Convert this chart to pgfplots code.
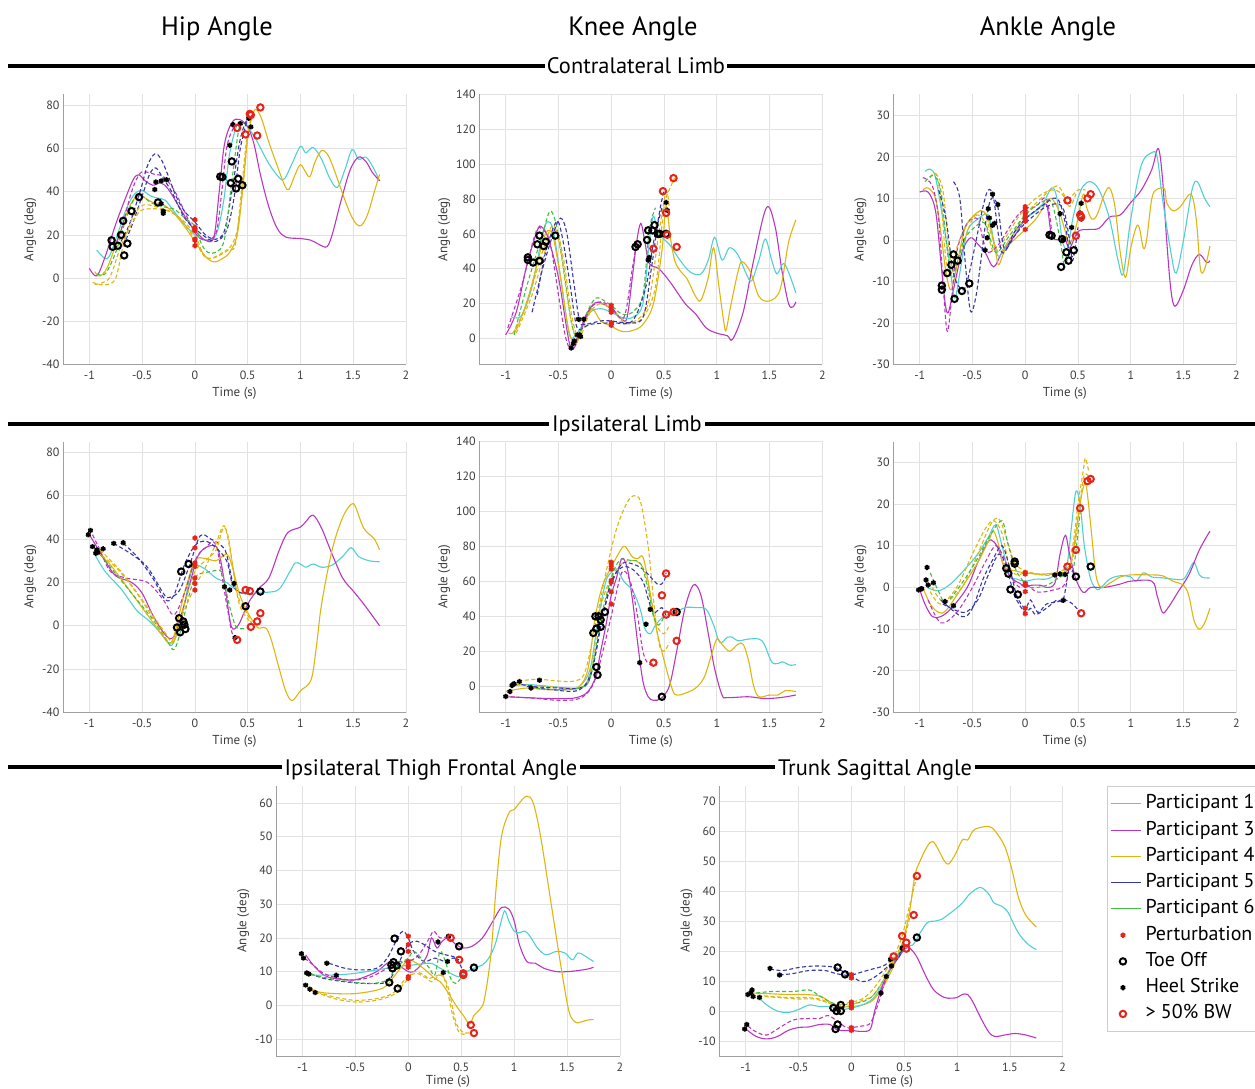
\documentclass[border=0pt]{standalone}
\usepackage{pgfplots}
\pgfplotsset{compat=1.18}
\usepackage{fontspec}
\setmainfont{PT Sans}
\definecolor{c1}{RGB}{80,208,210}
\definecolor{c3}{RGB}{185,55,190}
\definecolor{c4}{RGB}{222,182,15}
\definecolor{c5}{RGB}{55,55,168}
\definecolor{c6}{RGB}{65,190,65}
\definecolor{rd}{RGB}{232,35,25}
\definecolor{gridc}{RGB}{226,226,226}
\definecolor{axc}{RGB}{160,160,160}
\definecolor{labc}{RGB}{60,60,60}
\pgfplotsset{
  base/.style={scale only axis, width=343pt, height=270pt,
    xmin=-1.25, xmax=2, xtick={-1,-0.5,0,0.5,1,1.5,2},
    grid=major, grid style={line width=0.7pt, draw=gridc},
    axis x line*=bottom, axis y line*=left,
    axis line style={draw=axc, line width=0.7pt, -},
    tick style={draw=none},
    ticklabel style={font=\fontsize{12}{14}\selectfont, text=labc},
    xticklabel style={yshift=-3pt},
    label style={font=\fontsize{13}{15}\selectfont, text=labc},
    xlabel={Time (s)}, ylabel={Angle (deg)},
    xlabel style={yshift=-1pt},
    ylabel style={yshift=-1pt},
    /pgf/number format/assume math mode=true,
    every axis plot/.append style={line width=1.1pt, smooth, tension=0.55}},
  s1/.style={c1, solid}, s3/.style={c3, solid}, s4/.style={c4, solid},
  d3/.style={c3, dash pattern=on 4pt off 2.5pt},
  d4/.style={c4, dash pattern=on 4pt off 2.5pt},
  d5/.style={c5, dash pattern=on 4pt off 2.5pt},
  d6/.style={c6, dash pattern=on 4pt off 2.5pt},
  HS/.style={only marks, mark=asterisk, mark size=2.6pt, black, line width=1.7pt},
  TO/.style={only marks, mark=o, mark size=3.2pt, black, line width=2pt},
  PT/.style={only marks, mark=asterisk, mark size=2.6pt, rd, line width=1.7pt},
  BW/.style={only marks, mark=o, mark size=3.2pt, rd, line width=2pt},
  lineleg/.style={legend image code/.code={\draw[##1] (0pt,0pt) -- (30pt,0pt);}},
  markleg/.style={legend image code/.code={\draw[##1] plot coordinates {(12pt,0pt)};}},
}
\begin{document}
\begin{tikzpicture}
\path[use as bounding box] (0pt,0pt) rectangle (1255pt,1088pt);
\node[anchor=base, font=\fontsize{26.5}{30}\selectfont] at (217pt,1052pt) {Hip Angle};
\node[anchor=base, font=\fontsize{26.5}{30}\selectfont] at (633pt,1052pt) {Knee Angle};
\node[anchor=base, font=\fontsize{26.5}{30}\selectfont] at (1048pt,1052pt) {Ankle Angle};
\draw[line width=3.5pt] (8pt,1022pt) -- (1262pt,1022pt);
\node[anchor=base, fill=white, inner xsep=2pt, inner ysep=1pt, font=\fontsize{22.4}{25}\selectfont] at (636pt,1014pt) {Contralateral Limb};
\draw[line width=3.5pt] (8pt,664pt) -- (1262pt,664pt);
\node[anchor=base, fill=white, inner xsep=3pt, inner ysep=1pt, font=\fontsize{22.4}{25}\selectfont] at (627pt,656pt) {Ipsilateral Limb};
\draw[line width=3.5pt] (8pt,321pt) -- (1262pt,321pt);
\node[anchor=base, fill=white, inner xsep=3pt, inner ysep=1pt, font=\fontsize{22.4}{25}\selectfont] at (431pt,313pt) {Ipsilateral Thigh Frontal Angle};
\node[anchor=base, fill=white, inner xsep=3pt, inner ysep=1pt, font=\fontsize{22.4}{25}\selectfont] at (875pt,313pt) {Trunk Sagittal Angle};

%================ HIP CONTRA
\begin{axis}[base, at={(63pt,723.5pt)}, anchor=south west, ymin=-40, ymax=85, ytick={-40,-20,0,20,40,60,80}]
\addplot[s1] coordinates {(-0.93,13) (-0.83,9) (-0.75,18) (-0.65,32) (-0.57,39) (-0.5,40.5) (-0.42,38) (-0.35,37) (-0.28,36) (-0.2,31) (-0.1,25) (0,20) (0.1,17.5) (0.2,20) (0.27,35) (0.33,58) (0.4,71) (0.45,72) (0.5,70) (0.58,64) (0.7,53) (0.8,46.5) (0.85,46) (0.92,53) (1.0,61) (1.05,58) (1.12,60.5) (1.2,55) (1.28,46) (1.35,42) (1.42,50) (1.49,59.5) (1.55,55) (1.62,56) (1.68,52) (1.75,45)};
\addplot[s3] coordinates {(-1,4.5) (-0.93,1) (-0.85,10) (-0.75,25) (-0.65,38) (-0.58,46) (-0.53,47.8) (-0.47,45) (-0.4,43) (-0.32,44) (-0.25,41) (-0.15,33) (-0.05,25) (0,22) (0.1,17.5) (0.18,19) (0.23,40) (0.28,62) (0.35,72) (0.42,73.5) (0.5,70) (0.56,62) (0.62,48) (0.7,33) (0.78,23) (0.86,19) (1.0,18.3) (1.1,17.5) (1.18,15.5) (1.25,14.5) (1.3,20) (1.38,35) (1.47,50) (1.55,56) (1.62,54) (1.68,49) (1.75,45)};
\addplot[s4] coordinates {(-0.95,3) (-0.9,1) (-0.83,5) (-0.73,18) (-0.63,32) (-0.55,38) (-0.47,37) (-0.4,35) (-0.3,34) (-0.2,30) (-0.1,24) (0,17) (0.1,10) (0.18,7.5) (0.26,9) (0.33,12) (0.4,20) (0.45,40) (0.5,65) (0.55,76) (0.58,78) (0.63,74) (0.7,63) (0.78,52) (0.85,43) (0.89,41) (0.95,48) (1.0,52.5) (1.05,49) (1.09,47) (1.14,54) (1.2,59) (1.26,57) (1.32,50) (1.4,39) (1.47,30) (1.53,25) (1.58,24.5) (1.64,30) (1.7,40) (1.75,48)};
\addplot[d3] coordinates {(-0.77,14) (-0.7,22) (-0.6,40) (-0.52,48.5) (-0.45,49) (-0.38,48) (-0.3,47) (-0.2,41) (-0.1,31) (0,21) (0.1,17.5) (0.2,21) (0.25,38) (0.3,60) (0.36,69) (0.42,71)};
\addplot[d5] coordinates {(-0.7,17) (-0.62,25) (-0.52,40) (-0.45,52) (-0.38,57.5) (-0.32,55) (-0.25,47) (-0.18,38) (-0.1,31) (0,26) (0.1,20) (0.2,18) (0.28,22) (0.35,40) (0.42,62) (0.47,71) (0.52,75)};
\addplot[d5] coordinates {(-0.68,15) (-0.6,24) (-0.5,38) (-0.43,48) (-0.37,51) (-0.3,46) (-0.22,40) (-0.1,28) (0,23) (0.1,19) (0.2,17) (0.3,22) (0.37,37) (0.43,60) (0.5,74)};
\addplot[d6] coordinates {(-0.93,2) (-0.85,2) (-0.75,12) (-0.65,28) (-0.57,37) (-0.5,38) (-0.42,35) (-0.3,33) (-0.2,32) (-0.1,28) (0,24) (0.06,16) (0.12,12) (0.2,12) (0.28,18) (0.35,45) (0.42,70) (0.47,72)};
\addplot[d4] coordinates {(-0.97,-2) (-0.9,-3) (-0.83,-3) (-0.75,0) (-0.68,15) (-0.6,27) (-0.52,33) (-0.45,34) (-0.37,33) (-0.3,32) (-0.2,30) (-0.1,25) (0,18) (0.06,12) (0.12,9) (0.2,10) (0.3,13) (0.38,15) (0.43,35) (0.48,60) (0.52,72) (0.55,75)};
\addplot[d4] coordinates {(-0.95,-3) (-0.87,-2) (-0.8,1) (-0.7,15) (-0.6,25) (-0.52,31) (-0.45,32) (-0.35,32) (-0.25,31) (-0.12,27) (0,20) (0.08,11) (0.15,9) (0.25,11) (0.33,14) (0.4,22) (0.45,40) (0.5,66)};
\addplot[TO] coordinates {(-0.79,17.5) (-0.78,14.5) (-0.73,15) (-0.7,20) (-0.68,26.5) (-0.67,10.5) (-0.64,16) (-0.6,31) (-0.53,37.5) (-0.35,35) (0.24,47) (0.26,46.8) (0.34,44) (0.35,54) (0.39,41.5) (0.41,46) (0.45,43)};
\addplot[HS] coordinates {(-0.38,41) (-0.37,44.5) (-0.32,45) (-0.27,45.5) (-0.32,34.5) (-0.3,31) (-0.3,30) (0.33,61.5) (0.36,71) (0.43,71.5) (0.51,74) (0.53,70)};
\addplot[PT] coordinates {(0,27) (0,23.5) (0,22.5) (0,22) (0,18) (0,17.5) (0,15)};
\addplot[BW] coordinates {(0.4,69.5) (0.48,66.5) (0.52,76) (0.53,75.5) (0.59,66) (0.62,79)};
\end{axis}

%================ KNEE CONTRA
\begin{axis}[base, at={(479.3pt,723.5pt)}, anchor=south west, ymin=-15, ymax=140, ytick={0,20,40,60,80,100,120,140}]
\addplot[s3] coordinates {(-1,2) (-0.9,15) (-0.8,42) (-0.7,62) (-0.66,64) (-0.6,58) (-0.5,35) (-0.42,5) (-0.38,-6) (-0.33,-3) (-0.25,12) (-0.15,20.5) (-0.05,19) (0,17) (0.1,11) (0.15,12) (0.2,35) (0.24,55) (0.28,66) (0.32,55) (0.36,43) (0.45,40) (0.55,33) (0.7,20) (0.8,14) (0.9,6) (1.0,3) (1.1,1.5) (1.15,-0.5) (1.25,15) (1.35,45) (1.47,75) (1.55,65) (1.62,38) (1.68,20) (1.72,18) (1.75,21)};
\addplot[s1] coordinates {(-0.95,12.5) (-0.85,13) (-0.75,30) (-0.65,60) (-0.6,67) (-0.55,62) (-0.48,35) (-0.42,10) (-0.38,0) (-0.3,5) (-0.2,15) (-0.1,17) (0,15) (0.1,12) (0.2,12) (0.3,20) (0.36,55) (0.4,70) (0.45,60) (0.55,54) (0.65,45) (0.75,38) (0.85,37) (0.92,45) (0.98,58) (1.05,45) (1.12,52) (1.2,48) (1.28,37) (1.33,33) (1.4,45) (1.46,57) (1.52,45) (1.57,37) (1.63,43) (1.68,38) (1.75,26)};
\addplot[s4] coordinates {(-0.97,3) (-0.9,5) (-0.78,25) (-0.65,55) (-0.6,62) (-0.55,58) (-0.48,35) (-0.42,10) (-0.38,0) (-0.33,-3) (-0.25,10) (-0.18,17) (-0.1,10) (0,7) (0.1,4) (0.2,4.5) (0.3,8) (0.4,20) (0.48,50) (0.52,76) (0.56,58) (0.6,45) (0.65,39) (0.72,34) (0.8,24) (0.85,22) (0.92,35) (0.97,52) (1.02,30) (1.07,8) (1.09,5) (1.13,18) (1.2,38) (1.24,44) (1.32,38) (1.4,24) (1.5,21.5) (1.6,28) (1.68,55) (1.75,68)};
\addplot[d6] coordinates {(-0.92,2) (-0.8,30) (-0.65,60) (-0.58,73) (-0.52,65) (-0.45,40) (-0.38,10) (-0.32,0) (-0.25,12) (-0.15,23) (-0.05,21) (0,19) (0.1,14) (0.2,15) (0.3,25) (0.36,62) (0.42,75)};
\addplot[d4] coordinates {(-0.93,3) (-0.8,20) (-0.65,50) (-0.55,65) (-0.48,50) (-0.42,25) (-0.36,5) (-0.3,0) (-0.2,15) (-0.1,20) (0,18) (0.1,10) (0.2,9) (0.35,20) (0.45,60) (0.52,84) (0.55,75)};
\addplot[d4] coordinates {(-0.9,3) (-0.75,25) (-0.6,55) (-0.52,62) (-0.45,45) (-0.38,15) (-0.32,2) (-0.25,10) (-0.15,20) (0,17) (0.15,9) (0.3,12) (0.42,30) (0.5,75) (0.57,88) (0.6,92)};
\addplot[d5] coordinates {(-0.75,15) (-0.65,40) (-0.55,60) (-0.48,69) (-0.42,60) (-0.35,30) (-0.3,10) (-0.25,8) (-0.1,10) (0,10) (0.15,9) (0.3,12) (0.38,40) (0.45,70) (0.5,85)};
\addplot[d5] coordinates {(-0.7,25) (-0.62,50) (-0.52,67) (-0.47,60) (-0.4,35) (-0.34,10) (-0.3,5) (-0.2,8) (0,9) (0.2,10) (0.33,30) (0.4,55) (0.48,75)};
\addplot[d3] coordinates {(-0.98,6) (-0.85,30) (-0.72,60) (-0.66,63) (-0.58,55) (-0.5,25) (-0.43,0) (-0.38,-5) (-0.3,3) (-0.2,17) (-0.1,21) (0,18) (0.12,12) (0.2,40) (0.24,55)};
\addplot[TO] coordinates {(-0.79,46.5) (-0.79,45) (-0.74,43.5) (-0.7,54) (-0.68,59) (-0.68,44.5) (-0.64,53) (-0.62,55.5) (-0.53,59) (0.23,52.5) (0.25,54) (0.34,56.5) (0.35,62) (0.39,62) (0.41,65) (0.44,60) (0.46,60) (0.52,60)};
\addplot[HS] coordinates {(-0.38,-5.5) (-0.36,-3) (-0.35,-1.5) (-0.32,2) (-0.31,11) (-0.3,2) (-0.29,1) (-0.26,11) (0.35,45) (0.36,46.5) (0.52,78) (0.53,73.5)};
\addplot[PT] coordinates {(0,19) (0,17) (0,16) (0,15) (0,9) (0,7.5)};
\addplot[BW] coordinates {(0.4,51.5) (0.49,84.5) (0.52,72) (0.53,59.5) (0.59,92) (0.62,52.5)};
\end{axis}

%================ ANKLE CONTRA
\begin{axis}[base, at={(893.3pt,723.5pt)}, anchor=south west, ymin=-30, ymax=35, ytick={-30,-20,-10,0,10,20,30}]
\addplot[s3] coordinates {(-1,11.5) (-0.92,11.5) (-0.85,7) (-0.8,-5) (-0.76,-15) (-0.73,-17.5) (-0.68,-12) (-0.6,-3) (-0.52,0.5) (-0.45,-1) (-0.38,-3) (-0.3,-6.5) (-0.22,-3) (-0.1,1) (0,5) (0.1,7) (0.2,8.5) (0.25,1) (0.32,0) (0.38,0) (0.42,-2) (0.5,2) (0.6,2.5) (0.7,2.8) (0.8,5.5) (0.9,6) (1.0,9) (1.1,12) (1.2,17) (1.26,22) (1.3,15) (1.34,0) (1.38,-12) (1.42,-16) (1.5,-12) (1.58,-6) (1.65,-3.5) (1.72,-5.5) (1.75,-5)};
\addplot[s1] coordinates {(-0.95,16.5) (-0.9,17) (-0.85,15) (-0.78,5) (-0.72,-5) (-0.67,-14) (-0.62,-8) (-0.55,2) (-0.45,5) (-0.35,6) (-0.3,0) (-0.25,-4) (-0.15,0) (0,5) (0.15,8) (0.25,12.5) (0.3,10) (0.35,0) (0.4,-2) (0.45,5) (0.5,10) (0.55,13) (0.62,14) (0.7,12) (0.8,5) (0.88,-5) (0.93,-8) (1.0,5) (1.1,18) (1.2,21) (1.25,20) (1.3,10) (1.38,-3) (1.43,-8) (1.5,0) (1.58,12) (1.63,14) (1.7,10) (1.75,8)};
\addplot[s4] coordinates {(-0.97,12) (-0.92,12.5) (-0.85,10) (-0.8,2) (-0.75,-8) (-0.7,-12) (-0.64,-5) (-0.58,2) (-0.52,5) (-0.42,7) (-0.35,5) (-0.28,-3) (-0.25,-6) (-0.18,-2) (0,2.5) (0.1,5) (0.2,9) (0.25,10) (0.32,7) (0.38,2) (0.42,-1) (0.48,3) (0.55,11) (0.58,8) (0.63,5) (0.68,6) (0.75,11) (0.8,12.5) (0.85,8) (0.9,-3) (0.95,-9) (1.0,-2) (1.05,3) (1.08,3) (1.12,-2) (1.15,0) (1.2,10) (1.25,12.2) (1.32,12.3) (1.34,9) (1.4,7) (1.47,8) (1.57,11) (1.62,5) (1.66,-7) (1.7,-7) (1.75,-1.5)};
\addplot[d3] coordinates {(-0.97,15) (-0.88,13) (-0.82,5) (-0.78,-10) (-0.74,-22) (-0.7,-15) (-0.65,-3) (-0.55,4) (-0.45,5) (-0.4,0) (-0.35,-3) (-0.25,-1) (-0.1,5) (0,7.5) (0.1,8) (0.2,10) (0.25,2)};
\addplot[d4] coordinates {(-0.9,15) (-0.85,16) (-0.8,10) (-0.75,-5) (-0.7,-8) (-0.65,-2) (-0.55,4) (-0.45,6) (-0.38,4) (-0.3,-3) (-0.2,0) (-0.05,6) (0.1,10) (0.25,12) (0.35,11) (0.42,8) (0.48,11)};
\addplot[d4] coordinates {(-0.85,16) (-0.78,12) (-0.72,-3) (-0.67,-8) (-0.6,-2) (-0.5,5) (-0.4,7) (-0.33,2) (-0.25,-3) (-0.15,0) (0,6) (0.15,10) (0.3,13) (0.4,10) (0.5,12) (0.57,12)};
\addplot[d6] coordinates {(-0.95,14) (-0.87,15.5) (-0.8,12) (-0.75,0) (-0.7,-9) (-0.65,-6) (-0.58,0) (-0.48,3) (-0.38,4) (-0.28,-3) (-0.15,1) (0,6) (0.15,9) (0.25,9) (0.33,0) (0.37,-6) (0.42,-3)};
\addplot[d5] coordinates {(-0.82,12) (-0.75,5) (-0.68,-8) (-0.6,-12) (-0.55,-10) (-0.48,-2) (-0.4,8) (-0.35,12) (-0.3,10) (-0.22,-3) (-0.1,2) (0,5) (0.15,8) (0.3,10) (0.38,4) (0.42,-4) (0.47,-3)};
\addplot[d5] coordinates {(-0.68,14) (-0.62,10) (-0.57,-5) (-0.52,-17) (-0.47,-14) (-0.42,-5) (-0.37,5) (-0.32,10) (-0.26,8) (-0.2,-2) (-0.1,1) (0,4) (0.2,8) (0.35,8) (0.42,0) (0.45,-5) (0.5,3)};
\addplot[TO] coordinates {(-0.79,-11) (-0.79,-12) (-0.74,-8) (-0.7,-6) (-0.68,-3.5) (-0.67,-14.2) (-0.64,-5) (-0.6,-12.3) (-0.53,-10.5) (0.23,1.2) (0.25,1) (0.34,-6.5) (0.35,0.2) (0.39,-3) (0.41,-5) (0.46,-2.5)};
\addplot[HS] coordinates {(-0.38,-2.5) (-0.36,0.5) (-0.35,7.5) (-0.34,5.3) (-0.31,11) (-0.31,3.5) (-0.29,4) (-0.26,8.5) (0.33,6.3) (0.36,0.1) (0.44,3) (0.52,6.5) (0.53,5) (0.53,8.8)};
\addplot[PT] coordinates {(0,8) (0,7.3) (0,6.5) (0,5.8) (0,5) (0,4.5) (0,2.5)};
\addplot[BW] coordinates {(0.4,9.5) (0.48,1) (0.52,6) (0.53,5.5) (0.59,10) (0.62,11)};
\end{axis}

%================ HIP IPSI
\begin{axis}[base, height=271pt, at={(63pt,375.5pt)}, anchor=south west, ymin=-40, ymax=85, ytick={-40,-20,0,20,40,60,80}]
\addplot[s1] coordinates {(-0.95,33) (-0.85,25) (-0.7,17) (-0.55,7) (-0.45,3) (-0.35,-2) (-0.25,-8) (-0.22,-9) (-0.18,-5) (-0.1,10) (-0.05,22) (0,28) (0.1,26) (0.2,22) (0.3,20) (0.35,18) (0.45,15) (0.55,14.5) (0.6,15.5) (0.7,15.5) (0.8,17) (0.9,25) (0.95,29) (1.0,28.5) (1.05,27) (1.12,28.5) (1.2,27) (1.3,28) (1.4,32) (1.48,36) (1.55,32) (1.65,30) (1.75,29.5)};
\addplot[s3] coordinates {(-1,42) (-0.95,38) (-0.85,30) (-0.75,23) (-0.6,20) (-0.5,15) (-0.4,5) (-0.3,-3) (-0.23,-6) (-0.18,-3) (-0.1,10) (0,28) (0.05,34) (0.15,37) (0.22,35) (0.28,20) (0.33,3) (0.36,-1.5) (0.42,1) (0.5,10) (0.6,17) (0.7,22) (0.8,35) (0.88,43) (1.0,45.5) (1.05,48) (1.12,51) (1.2,45) (1.3,33) (1.4,22) (1.5,16) (1.6,10) (1.75,0)};
\addplot[s4] coordinates {(-0.95,35) (-0.8,28) (-0.6,15) (-0.45,5) (-0.3,-5) (-0.25,-8) (-0.2,-5) (-0.1,15) (0,30) (0.1,31) (0.2,30) (0.3,33) (0.35,28) (0.42,15) (0.48,8) (0.55,2) (0.6,-1) (0.67,-1) (0.72,-6) (0.8,-20) (0.86,-30) (0.92,-34.5) (1.0,-30) (1.1,-25) (1.15,-10) (1.2,10) (1.3,35) (1.4,50) (1.48,56) (1.52,55) (1.6,45) (1.7,40) (1.75,35)};
\addplot[d3] coordinates {(-0.97,42) (-0.9,35) (-0.8,25) (-0.65,22) (-0.45,20) (-0.3,12) (-0.2,5) (-0.1,15) (0,30) (0.1,36) (0.2,37) (0.3,10) (0.35,-3) (0.38,-5)};
\addplot[d5] coordinates {(-0.77,38) (-0.6,33) (-0.45,27) (-0.3,15) (-0.25,13) (-0.15,16) (-0.05,28) (0.05,41.5) (0.15,40) (0.25,37) (0.3,33) (0.37,18) (0.45,15)};
\addplot[d5] coordinates {(-0.68,38) (-0.55,32) (-0.4,22) (-0.28,12) (-0.2,14) (-0.1,28) (0,37) (0.1,39) (0.2,36) (0.3,30) (0.35,20) (0.4,16)};
\addplot[d6] coordinates {(-0.93,35) (-0.8,27) (-0.6,15) (-0.4,3) (-0.25,-8) (-0.2,-11) (-0.15,-5) (-0.05,15) (0,22) (0.05,24) (0.15,25) (0.25,25) (0.3,15) (0.35,5) (0.4,-1) (0.5,-1)};
\addplot[d4] coordinates {(-0.9,35) (-0.7,25) (-0.5,12) (-0.3,-2) (-0.2,-7) (-0.1,10) (0,25) (0.1,30) (0.2,35) (0.27,45) (0.32,40) (0.4,15) (0.5,5) (0.55,0)};
\addplot[d4] coordinates {(-0.93,34) (-0.75,27) (-0.55,15) (-0.35,0) (-0.22,-8) (-0.12,5) (0,18) (0.1,27) (0.2,38) (0.28,46) (0.35,30) (0.42,10) (0.52,2)};
\addplot[HS] coordinates {(-1.01,42) (-0.99,44) (-0.97,36.5) (-0.94,33.5) (-0.93,35) (-0.92,33.8) (-0.87,35.5) (-0.77,38) (-0.68,38.3) (0.28,18) (0.33,16.5) (0.37,19.5) (0.38,-5.5)};
\addplot[TO] coordinates {(-0.17,-0.8) (-0.15,3.5) (-0.14,-3) (-0.13,25) (-0.11,2) (-0.1,0.5) (-0.09,-1.5) (-0.06,28.5) (0.48,9) (0.62,15.8)};
\addplot[PT] coordinates {(0,40.5) (0,36) (0,29) (0,27.5) (0,22) (0,19.5) (0,16.5)};
\addplot[BW] coordinates {(0.4,-6.5) (0.48,16.5) (0.52,16) (0.53,-0.5) (0.59,2) (0.62,5.8)};
\end{axis}

%================ KNEE IPSI
\begin{axis}[base, height=271pt, at={(479.3pt,375.5pt)}, anchor=south west, ymin=-15, ymax=140, ytick={0,20,40,60,80,100,120,140}]
\addplot[s3] coordinates {(-1,-6) (-0.8,-6.5) (-0.6,-7) (-0.4,-7) (-0.3,-6) (-0.22,-3) (-0.15,5) (-0.1,20) (-0.05,35) (0,52) (0.05,62) (0.1,73) (0.15,68) (0.2,50) (0.25,25) (0.3,3) (0.35,-6) (0.4,-8) (0.47,-7) (0.55,0) (0.62,20) (0.7,45) (0.78,58) (0.85,52) (0.92,30) (0.98,10) (1.05,-5) (1.1,-6.5) (1.3,-6) (1.45,-7) (1.6,-6.5) (1.75,-5)};
\addplot[s1] coordinates {(-0.97,0) (-0.8,1) (-0.6,0) (-0.4,-1) (-0.3,0) (-0.2,10) (-0.12,40) (-0.05,60) (0,65) (0.05,67) (0.12,60) (0.2,55) (0.27,45) (0.32,33) (0.37,30) (0.42,35) (0.5,40) (0.6,42) (0.7,45) (0.8,45) (0.9,44) (0.97,35) (1.03,25) (1.1,28) (1.15,28) (1.2,26) (1.3,27) (1.4,27) (1.45,24) (1.52,14) (1.58,13) (1.62,14) (1.7,12) (1.75,12.5)};
\addplot[s4] coordinates {(-1,-3) (-0.8,-1) (-0.6,-2) (-0.4,-1.5) (-0.3,0) (-0.22,10) (-0.15,40) (-0.08,58) (0,68) (0.08,77) (0.13,80) (0.2,74) (0.25,73) (0.3,74) (0.35,60) (0.42,35) (0.5,15) (0.58,-2) (0.62,-5) (0.7,-4) (0.8,-1) (0.88,5) (0.95,18) (1.0,27) (1.05,24) (1.12,20) (1.2,24) (1.25,24) (1.3,15) (1.35,0) (1.4,-6) (1.5,-5) (1.58,-5) (1.65,-2.5) (1.75,-3)};
\addplot[d4] coordinates {(-0.88,3) (-0.7,4) (-0.5,3) (-0.35,3) (-0.25,8) (-0.15,35) (-0.05,65) (0.05,90) (0.15,105) (0.22,109) (0.28,105) (0.35,80) (0.4,50) (0.45,25) (0.5,20) (0.55,25)};
\addplot[d4] coordinates {(-0.9,1) (-0.6,0) (-0.3,-1) (-0.2,8) (-0.1,45) (0,62) (0.1,70) (0.2,72) (0.3,68) (0.38,50) (0.43,35) (0.5,30) (0.55,35)};
\addplot[d5] coordinates {(-0.8,0) (-0.5,-1) (-0.3,-1) (-0.2,5) (-0.1,35) (0,58) (0.1,70) (0.2,70) (0.3,67) (0.38,62) (0.45,58) (0.5,60) (0.52,65)};
\addplot[d5] coordinates {(-0.85,1) (-0.55,-2) (-0.3,-2) (-0.18,10) (-0.08,40) (0,60) (0.1,68) (0.2,67) (0.3,60) (0.35,50) (0.4,42) (0.48,45) (0.52,40)};
\addplot[d6] coordinates {(-0.77,-1) (-0.5,-2) (-0.3,-1) (-0.2,5) (-0.1,38) (0,62) (0.08,72) (0.18,72) (0.28,70) (0.35,55) (0.4,40) (0.45,35) (0.5,40)};
\addplot[d3] coordinates {(-0.95,-6) (-0.7,-7) (-0.5,-8) (-0.3,-7) (-0.18,0) (-0.1,15) (0,40) (0.1,65) (0.18,60) (0.25,40) (0.3,20) (0.35,13) (0.4,13)};
\addplot[HS] coordinates {(-1.0,-5.8) (-0.96,-3) (-0.94,0.5) (-0.93,1) (-0.92,1.5) (-0.87,2.7) (-0.76,-1) (-0.68,3.5) (0.27,13.5) (0.33,35.5) (0.37,44)};
\addplot[TO] coordinates {(-0.17,30.5) (-0.15,40) (-0.14,33) (-0.14,11) (-0.13,6.5) (-0.12,40) (-0.1,34) (-0.1,38) (-0.06,42.5) (0.48,-6) (0.62,42.5)};
\addplot[PT] coordinates {(0,71) (0,69) (0,67) (0,60.5) (0,59.5) (0,54) (0,47)};
\addplot[BW] coordinates {(0.4,13.5) (0.48,52) (0.52,41) (0.52,64.5) (0.59,42.5) (0.62,26)};
\end{axis}

%================ ANKLE IPSI
\begin{axis}[base, height=271pt, at={(893.3pt,375.5pt)}, anchor=south west, ymin=-30, ymax=35, ytick={-30,-20,-10,0,10,20,30}]
\addplot[s1] coordinates {(-0.93,0) (-0.82,-0.8) (-0.7,1) (-0.55,5) (-0.45,8) (-0.35,12) (-0.28,15) (-0.22,10) (-0.15,3) (-0.08,2) (0,1.5) (0.1,2) (0.2,2) (0.3,3) (0.35,3) (0.4,6) (0.44,15) (0.48,23) (0.52,20) (0.56,10) (0.62,2) (0.68,-0.5) (0.72,0) (0.8,2) (0.9,2.8) (1.0,2.5) (1.05,1.5) (1.12,3.5) (1.2,2.5) (1.3,2.3) (1.4,2) (1.5,2) (1.55,4) (1.6,6) (1.65,3) (1.7,2.3) (1.75,2.3)};
\addplot[s3] coordinates {(-1,-0.5) (-0.95,-4) (-0.88,-7) (-0.8,-7) (-0.7,-5) (-0.55,0) (-0.45,6) (-0.35,11) (-0.3,11) (-0.25,9) (-0.2,5) (-0.12,2) (-0.05,1) (0,0) (0.05,0.5) (0.15,0.5) (0.2,0) (0.28,1) (0.33,8) (0.38,12.5) (0.42,8) (0.48,2) (0.55,-1.2) (0.62,0) (0.75,0) (0.9,0.8) (1.0,1.5) (1.2,1.5) (1.25,-2) (1.3,-6) (1.35,-5) (1.45,-1) (1.55,3) (1.65,9) (1.75,13.5)};
\addplot[s4] coordinates {(-0.97,0) (-0.9,-4) (-0.82,-6) (-0.75,-5.5) (-0.6,0) (-0.45,6) (-0.35,11) (-0.3,13.5) (-0.25,10) (-0.2,5) (-0.1,4) (0,3.5) (0.15,3.2) (0.3,3.5) (0.4,4) (0.45,8) (0.5,17) (0.55,24) (0.58,24) (0.62,15) (0.67,3) (0.72,0) (0.8,1) (0.9,2.5) (1.0,3) (1.2,3) (1.3,2.8) (1.4,1.5) (1.5,0.5) (1.55,-2) (1.6,-8) (1.65,-10) (1.7,-8.5) (1.75,-5)};
\addplot[d4] coordinates {(-0.9,-1) (-0.8,-4) (-0.65,0) (-0.5,8) (-0.38,14) (-0.3,16) (-0.22,13) (-0.15,5) (-0.08,3) (0,3.5) (0.15,3) (0.3,3) (0.38,5) (0.45,10) (0.5,20) (0.55,28) (0.57,31) (0.6,28)};
\addplot[d4] coordinates {(-0.88,0) (-0.77,-3.5) (-0.6,0) (-0.45,8) (-0.33,15) (-0.25,16.5) (-0.18,12) (-0.1,6) (0,4) (0.2,3) (0.35,4) (0.45,7) (0.52,20) (0.56,27) (0.62,26)};
\addplot[d6] coordinates {(-0.9,3.5) (-0.82,-1) (-0.75,-3.5) (-0.6,1) (-0.45,7) (-0.32,13) (-0.22,16) (-0.17,11) (-0.1,5) (-0.05,2.5) (0.05,0) (0.2,0.5) (0.3,2) (0.4,3.5) (0.46,5) (0.52,18)};
\addplot[d5] coordinates {(-0.8,-3) (-0.6,-7) (-0.5,-5) (-0.4,2) (-0.3,7) (-0.22,10) (-0.15,5) (-0.08,-2) (0,-5) (0.05,-3) (0.12,-6) (0.2,-4) (0.3,-3.5) (0.38,-3) (0.45,-4) (0.52,-6)};
\addplot[d5] coordinates {(-0.78,-4) (-0.58,-6) (-0.45,-3) (-0.35,3) (-0.25,8) (-0.18,5) (-0.1,-2) (0,-6) (0.05,-5) (0.1,-6.5) (0.2,-5) (0.3,-3) (0.36,-3) (0.42,5) (0.46,3)};
\addplot[d3] coordinates {(-0.92,-3) (-0.8,-8.5) (-0.65,-6) (-0.5,0) (-0.38,6) (-0.28,10) (-0.2,7) (-0.12,2) (-0.05,0) (0,1) (0.1,-1) (0.2,-1) (0.28,-0.5) (0.35,0) (0.4,2)};
\addplot[HS] coordinates {(-1.01,-0.6) (-0.99,-0.4) (-0.98,-0.3) (-0.94,1.8) (-0.93,4.8) (-0.92,0.6) (-0.87,1.1) (-0.76,-3.4) (-0.68,-4.4) (0.28,3) (0.33,3.2) (0.36,-3.1) (0.38,3.1)};
\addplot[TO] coordinates {(-0.18,4.6) (-0.16,3.3) (-0.14,-0.5) (-0.1,6.2) (-0.1,5.7) (-0.07,-1.7) (0.48,2.6) (0.62,5)};
\addplot[PT] coordinates {(0,3.6) (0,3.2) (0,1) (0,0.5) (0,-1) (0,-5) (0,-6.3)};
\addplot[BW] coordinates {(0.4,5) (0.48,9) (0.52,19) (0.53,-6.2) (0.59,25.5) (0.62,26)};
\end{axis}

%================ THIGH FRONTAL
\begin{axis}[base, width=344pt, at={(276pt,32pt)}, anchor=south west, ymin=-15, ymax=65, ytick={-10,0,10,20,30,40,50,60}, xlabel style={yshift=4pt}]
\addplot[s3] coordinates {(-0.97,15) (-0.9,12) (-0.8,9) (-0.7,8) (-0.55,7.5) (-0.45,8) (-0.3,10) (-0.2,12.5) (-0.15,13) (-0.1,12) (-0.05,11) (0,10) (0.05,10) (0.12,12) (0.18,15) (0.22,20) (0.27,17) (0.32,19) (0.38,20) (0.45,18) (0.52,17) (0.6,17.5) (0.7,20) (0.8,25) (0.88,29) (0.95,28.5) (1.0,25) (1.05,18) (1.12,13) (1.2,12.5) (1.28,11) (1.4,10) (1.5,10) (1.6,10.3) (1.7,10.8) (1.75,11.3)};
\addplot[s1] coordinates {(-0.92,9) (-0.7,9) (-0.5,9.5) (-0.3,10.5) (-0.1,11.5) (0.05,12) (0.2,12.5) (0.25,12) (0.3,11) (0.4,9.5) (0.48,8.5) (0.55,10) (0.62,11) (0.7,12) (0.76,14) (0.82,18) (0.87,24) (0.91,28) (0.95,25) (1.0,22) (1.05,21.5) (1.1,22) (1.15,20.5) (1.22,17) (1.3,15) (1.4,16) (1.48,15.5) (1.55,13.5) (1.6,15.5) (1.65,15) (1.7,14) (1.75,13)};
\addplot[s4] coordinates {(-0.95,5.5) (-0.85,4) (-0.7,3.5) (-0.5,3.5) (-0.3,4.5) (-0.2,6) (-0.1,10) (0,13.5) (0.05,13) (0.1,12) (0.18,10) (0.25,8) (0.3,7) (0.35,5) (0.45,0) (0.52,-3) (0.58,-5.5) (0.62,-3) (0.68,-1) (0.72,2) (0.78,15) (0.83,35) (0.88,50) (0.95,57) (1.0,58) (1.05,60) (1.12,62) (1.18,60) (1.25,50) (1.35,30) (1.45,10) (1.52,-2) (1.58,-5) (1.62,-5) (1.7,-4.3) (1.75,-4.2)};
\addplot[d3] coordinates {(-0.98,14) (-0.9,12) (-0.8,9.5) (-0.65,8) (-0.5,7.5) (-0.35,8.5) (-0.2,11) (-0.1,13) (0,13) (0.1,15) (0.2,20) (0.24,22) (0.3,20) (0.38,20.5)};
\addplot[d5] coordinates {(-0.75,12.5) (-0.6,11) (-0.45,10.5) (-0.3,11) (-0.2,14) (-0.1,20) (-0.05,22) (0,20) (0.05,16) (0.15,13) (0.25,14) (0.35,13) (0.42,14) (0.48,13.5)};
\addplot[d5] coordinates {(-0.93,9.5) (-0.8,8) (-0.6,7) (-0.4,6.5) (-0.2,7) (-0.1,12) (0,18) (0.08,19) (0.15,18) (0.25,16) (0.35,15) (0.45,14) (0.52,10)};
\addplot[d6] coordinates {(-0.92,9.2) (-0.75,8) (-0.55,7) (-0.35,6.5) (-0.2,7.5) (-0.12,11) (-0.05,13) (0,14) (0.05,16) (0.12,14) (0.2,11) (0.25,9) (0.3,16) (0.35,13) (0.4,8) (0.45,6.5) (0.52,9)};
\addplot[d4] coordinates {(-0.88,4) (-0.7,2) (-0.5,1) (-0.3,1.5) (-0.15,3) (-0.08,5) (0,8) (0.05,10) (0.15,9) (0.22,7) (0.3,9) (0.35,7) (0.42,-3) (0.48,-8) (0.55,-8.5)};
\addplot[d4] coordinates {(-0.92,4.5) (-0.7,2.5) (-0.5,1.5) (-0.3,2) (-0.15,3.5) (-0.08,6) (0,8.5) (0.08,9.5) (0.18,8) (0.25,8.5) (0.32,9) (0.38,5) (0.45,-5) (0.52,-8) (0.6,-8)};
\addplot[HS] coordinates {(-1.01,15.3) (-0.99,14) (-0.96,9.6) (-0.94,9.3) (-0.97,6) (-0.93,4.8) (-0.88,3.8) (-0.77,12.5) (-0.68,8.9) (0.28,18.8) (0.33,9.7) (0.37,13) (0.38,20.5)};
\addplot[TO] coordinates {(-0.18,6.8) (-0.16,12) (-0.15,11) (-0.14,12.8) (-0.13,19.8) (-0.11,11.8) (-0.1,5) (-0.07,16) (0.48,17.5) (0.62,11.2)};
\addplot[PT] coordinates {(0,20.5) (0,18) (0,16) (0,13) (0,12) (0,11.3) (0,8.5) (0,8)};
\addplot[BW] coordinates {(0.4,20) (0.48,13.5) (0.52,9.5) (0.52,9) (0.59,-5.8) (0.62,-8.2)};
\end{axis}

%================ TRUNK SAGITTAL
\begin{axis}[base, width=343.4pt, at={(719.3pt,32pt)}, anchor=south west, ymin=-15, ymax=75, ytick={-10,0,10,20,30,40,50,60,70}, xlabel style={yshift=4pt},
  legend style={at={(1.129,1)}, anchor=north west, draw={rgb,255:red,205;green,205;blue,205}, line width=0.8pt,
    font=\fontsize{20}{22}\selectfont, inner xsep=3pt, inner ysep=7pt, row sep=5.25pt, column sep=3pt,
    nodes={text height=15pt, text depth=5pt, inner ysep=0.5pt, inner xsep=1pt}},
  legend cell align=left, lineleg]
\addlegendimage{c1, line width=1.1pt, lineleg}\addlegendentry{Participant 1}
\addlegendimage{c3, line width=1.1pt, lineleg}\addlegendentry{Participant 3}
\addlegendimage{c4, line width=1.1pt, lineleg}\addlegendentry{Participant 4}
\addlegendimage{c5, line width=1.1pt, lineleg}\addlegendentry{Participant 5}
\addlegendimage{c6, line width=1.1pt, lineleg}\addlegendentry{Participant 6}
\addlegendimage{rd, mark=asterisk, mark size=2.6pt, line width=1.7pt, markleg}\addlegendentry{Perturbation}
\addlegendimage{black, mark=o, mark size=3.2pt, line width=2pt, markleg}\addlegendentry{Toe Off}
\addlegendimage{black, mark=asterisk, mark size=2.6pt, line width=1.7pt, markleg}\addlegendentry{Heel Strike}
\addlegendimage{rd, mark=o, mark size=3.2pt, line width=2pt, markleg}\addlegendentry{> 50\% BW}
\addplot[s4] coordinates {(-0.95,6) (-0.8,5.8) (-0.6,5.5) (-0.45,5.5) (-0.3,5) (-0.2,3) (-0.1,1.5) (0,1.5) (0.1,2) (0.2,3.5) (0.3,8) (0.4,15) (0.48,22) (0.55,33) (0.6,45) (0.65,50) (0.72,55) (0.77,56.5) (0.82,54) (0.88,50) (0.92,49) (0.98,52) (1.05,57) (1.1,57) (1.15,60) (1.2,61) (1.3,61.5) (1.36,60) (1.45,55) (1.52,47) (1.58,38) (1.65,32) (1.75,28)};
\addplot[s1] coordinates {(-0.88,4.5) (-0.8,2) (-0.7,0) (-0.6,-0.5) (-0.5,0.5) (-0.4,2) (-0.3,1.5) (-0.2,1.5) (-0.1,0.5) (0,1) (0.1,2) (0.2,4) (0.3,9) (0.4,16) (0.5,21) (0.58,22) (0.65,26) (0.72,29.5) (0.8,30) (0.85,30.5) (0.95,33) (1.05,36) (1.12,39) (1.22,41.2) (1.3,39) (1.35,36) (1.42,35) (1.48,33) (1.55,28) (1.6,25) (1.68,22) (1.75,20.5)};
\addplot[s3] coordinates {(-1,-6) (-0.9,-8.5) (-0.8,-9.3) (-0.7,-8.5) (-0.6,-6.5) (-0.5,-5.5) (-0.4,-5.3) (-0.3,-4.5) (-0.2,-4.5) (-0.15,-6) (-0.1,-6.5) (0,-6.5) (0.1,-6.8) (0.18,-6) (0.22,0) (0.28,7) (0.35,13) (0.45,18) (0.5,20.5) (0.55,21) (0.62,18) (0.7,12) (0.78,7) (0.88,4.5) (0.95,4.3) (1.0,4.5) (1.05,5.5) (1.1,5.5) (1.15,3) (1.22,-2) (1.3,-7) (1.36,-8.5) (1.45,-8) (1.55,-7.5) (1.65,-8) (1.75,-9)};
\addplot[d3] coordinates {(-0.98,-5) (-0.9,-7) (-0.8,-8) (-0.7,-6) (-0.55,-3) (-0.4,-2.5) (-0.3,-2.5) (-0.22,-1.5) (-0.15,-3) (-0.05,-5.5) (0,-5.5) (0.1,-5) (0.18,-4) (0.25,2) (0.32,10) (0.38,15)};
\addplot[d5] coordinates {(-0.77,14) (-0.65,13.5) (-0.5,14.5) (-0.35,15) (-0.2,14.8) (-0.13,14.2) (-0.05,12.5) (0,12) (0.1,13) (0.2,14) (0.3,15) (0.38,17) (0.45,19) (0.5,21)};
\addplot[d5] coordinates {(-0.68,12) (-0.55,12.5) (-0.4,13.5) (-0.25,13.5) (-0.15,12.5) (-0.07,12) (0,11.5) (0.08,10) (0.15,10) (0.25,12) (0.35,15) (0.45,18) (0.5,24)};
\addplot[d6] coordinates {(-0.9,6) (-0.75,6.5) (-0.55,6.5) (-0.4,7) (-0.3,5) (-0.2,3) (-0.1,2) (0,2.5) (0.1,3) (0.2,5) (0.3,10) (0.4,16) (0.47,21)};
\addplot[d4] coordinates {(-0.95,5.5) (-0.8,5) (-0.6,4.5) (-0.45,4.5) (-0.3,4) (-0.15,2) (0,3) (0.1,4) (0.2,7) (0.3,12) (0.4,18) (0.48,25) (0.55,35) (0.62,45)};
\addplot[d4] coordinates {(-0.88,5) (-0.7,4.5) (-0.5,4) (-0.35,4) (-0.2,2.5) (-0.1,1) (0,2) (0.1,3.5) (0.2,5) (0.3,10) (0.4,17) (0.5,24) (0.56,32) (0.6,32)};
\addplot[HS] coordinates {(-1.01,-6) (-0.99,-4.5) (-0.98,5.5) (-0.95,6.2) (-0.94,7) (-0.93,4.8) (-0.87,4.5) (-0.77,14.2) (-0.68,12) (0.28,6) (0.33,11.5) (0.37,17.2) (0.38,15) (0.48,21)};
\addplot[TO] coordinates {(-0.17,1) (-0.15,-6) (-0.14,0) (-0.13,14.5) (-0.13,-4.5) (-0.1,2) (-0.1,0) (-0.06,12.2) (0.62,24.5)};
\addplot[PT] coordinates {(0,12.2) (0,11) (0,3) (0,2) (0,1) (0,-5.5) (0,-6.5)};
\addplot[BW] coordinates {(0.4,18.2) (0.48,25) (0.52,22.8) (0.52,20.8) (0.59,32) (0.62,45)};
\end{axis}
\end{tikzpicture}
\end{document}
